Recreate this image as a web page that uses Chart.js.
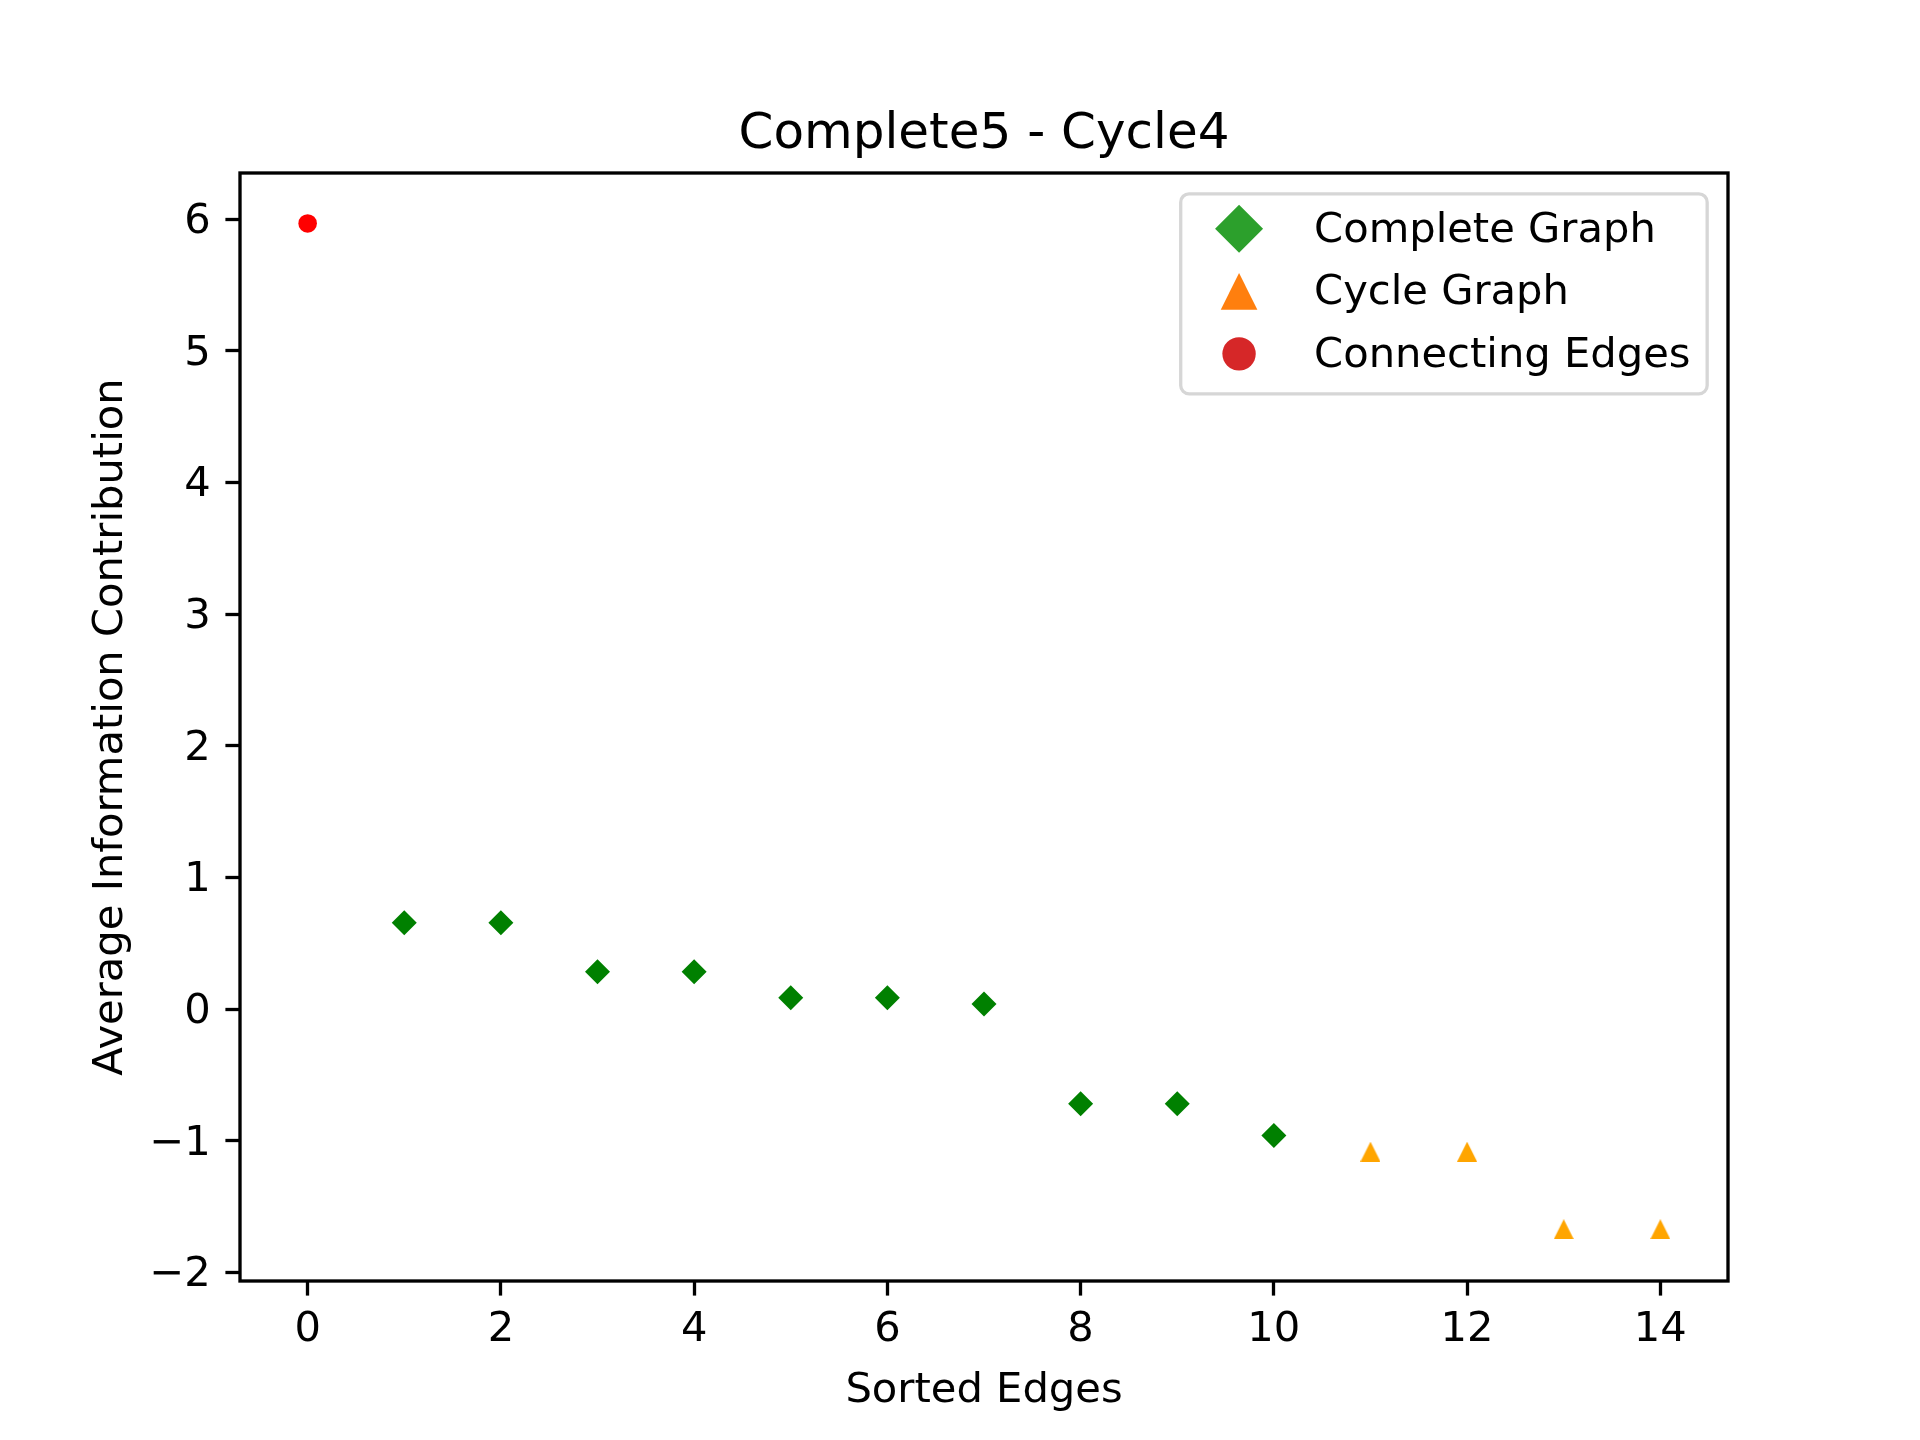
<!DOCTYPE html>
<html>
<head>
<meta charset="utf-8">
<script src="https://cdn.jsdelivr.net/npm/chart.js@4.4.1/dist/chart.umd.min.js"></script>
<style>
  html, body { margin: 0; padding: 0; background: #fff; }
  canvas { display: block; }
</style>
</head>
<body>
<canvas id="chart" width="1920" height="1440"></canvas>
<script>
const chartTitle = 'Complete5 - Cycle4';
const xAxisLabel = 'Sorted Edges';
const yAxisLabel = 'Average Information Contribution';
const seriesLabels = ['Complete Graph', 'Cycle Graph', 'Connecting Edges'];

// values
const completeX = [1, 2, 3, 4, 5, 6, 7, 8, 9, 10];
const completeY = [0.656, 0.656, 0.285, 0.285, 0.087, 0.087, 0.040, -0.718, -0.718, -0.960];
const cycleX = [11, 12, 13, 14];
const cycleY = [-1.082, -1.082, -1.671, -1.671];
const connectingX = [0];
const connectingY = [5.967];

const xTicks = [0, 2, 4, 6, 8, 10, 12, 14];
const yTicks = [-2, -1, 0, 1, 2, 3, 4, 5, 6];

const FS = 41.67; // 10pt at 300dpi
Chart.defaults.font.family = "'DejaVu Sans', sans-serif";
Chart.defaults.color = '#000';

function toPoints(xs, ys) {
  return xs.map((x, i) => ({ x: x, y: ys[i] }));
}

// matplotlib style "^" marker: as wide as it is tall
function triangleMarker(size, color) {
  const c = document.createElement('canvas');
  c.width = size;
  c.height = size;
  const ctx = c.getContext('2d');
  ctx.fillStyle = color;
  ctx.beginPath();
  ctx.moveTo(size / 2, 0);
  ctx.lineTo(size, size);
  ctx.lineTo(0, size);
  ctx.closePath();
  ctx.fill();
  return c;
}

function fmt(v) {
  return v < 0 ? '\u2212' + Math.abs(v) : String(v);
}

// axes box drawn on top like matplotlib spines
const framePlugin = {
  id: 'frame',
  afterDraw(chart) {
    const { ctx, chartArea: a } = chart;
    ctx.save();
    ctx.strokeStyle = '#000';
    ctx.lineWidth = 3.33;
    ctx.strokeRect(a.left, a.top, a.right - a.left, a.bottom - a.top);
    ctx.restore();
  }
};

// legend in the upper right, with its own handle colours as in the reference
const legendColors = ['#2ca02c', '#ff7f0e', '#d62728'];
const legendPlugin = {
  id: 'mplLegend',
  afterDraw(chart) {
    const { ctx, chartArea: a } = chart;
    const pad = 0.4 * FS, handleLen = 2 * FS, textPad = 0.8 * FS, gap = 0.5 * FS;
    ctx.save();
    ctx.font = FS + "px 'DejaVu Sans'";
    const textW = Math.max(...seriesLabels.map(t => ctx.measureText(t).width));
    const right = a.right - 0.5 * FS;
    const top = a.top + 0.5 * FS;
    const w = pad + handleLen + textPad + textW + pad;
    const h = pad * 2 + seriesLabels.length * FS + (seriesLabels.length - 1) * gap;
    const left = right - w;

    ctx.beginPath();
    ctx.roundRect(left, top, w, h, 0.2 * FS);
    ctx.fillStyle = 'rgba(255,255,255,0.8)';
    ctx.fill();
    ctx.lineWidth = 3.3;
    ctx.strokeStyle = '#d6d6d6';
    ctx.stroke();

    const mx = left + pad + handleLen / 2;
    seriesLabels.forEach((label, i) => {
      const cy = top + 35 + i * (FS + gap);
      ctx.fillStyle = legendColors[i];
      ctx.beginPath();
      if (i === 0) {
        const r = 24;
        ctx.moveTo(mx, cy - r);
        ctx.lineTo(mx + r, cy);
        ctx.lineTo(mx, cy + r);
        ctx.lineTo(mx - r, cy);
      } else if (i === 1) {
        const s = 18.3;
        ctx.moveTo(mx, cy - s);
        ctx.lineTo(mx + s, cy + s);
        ctx.lineTo(mx - s, cy + s);
      } else {
        ctx.arc(mx, cy, 16.7, 0, Math.PI * 2);
      }
      ctx.closePath();
      ctx.fill();
      ctx.fillStyle = '#000';
      ctx.textBaseline = 'middle';
      ctx.textAlign = 'left';
      ctx.fillText(label, left + pad + handleLen + textPad, cy + 2);
    });
    ctx.restore();
  }
};

const tickGrid = { drawOnChartArea: false, drawTicks: true, tickLength: 14.6, tickWidth: 3.3, tickColor: '#000' };

const ctx = document.getElementById('chart').getContext('2d');
new Chart(ctx, {
  type: 'scatter',
  data: {
    datasets: [
      {
        label: seriesLabels[0],
        data: toPoints(completeX, completeY),
        pointStyle: 'rectRot',
        pointRadius: 12.5,
        backgroundColor: '#008000',
        borderWidth: 0
      },
      {
        label: seriesLabels[1],
        data: toPoints(cycleX, cycleY),
        pointStyle: triangleMarker(20, '#ffa500'),
        pointRadius: 10,
        backgroundColor: '#ffa500',
        borderWidth: 0
      },
      {
        label: seriesLabels[2],
        data: toPoints(connectingX, connectingY),
        pointStyle: 'circle',
        pointRadius: 9.3,
        backgroundColor: '#ff0000',
        borderWidth: 0
      }
    ]
  },
  options: {
    responsive: false,
    animation: false,
    events: [],
    layout: { padding: { left: 48, top: 0, right: 0, bottom: 0 } },
    scales: {
      x: {
        type: 'linear',
        min: -0.7,
        max: 14.7,
        afterBuildTicks: scale => { scale.ticks = xTicks.map(v => ({ value: v })); },
        afterFit: scale => { scale.height = 159; },
        border: { display: false },
        grid: tickGrid,
        ticks: { font: { size: FS }, padding: 10, maxRotation: 0, autoSkip: false, callback: v => fmt(v) },
        title: { display: true, text: xAxisLabel, font: { size: FS }, padding: { top: 0, bottom: 24 } }
      },
      y: {
        type: 'linear',
        min: -2.064,
        max: 6.35,
        afterBuildTicks: scale => { scale.ticks = yTicks.map(v => ({ value: v })); },
        afterFit: scale => { scale.width = 192; },
        border: { display: false },
        grid: tickGrid,
        ticks: { font: { size: FS }, padding: 14.6, labelOffset: 3, autoSkip: false, callback: v => fmt(v) },
        title: { display: true, text: yAxisLabel, font: { size: FS }, padding: { top: 38, bottom: 0 } }
      },
      // empty right-hand axis so the title centres over the plot area
      yRight: {
        type: 'linear',
        position: 'right',
        min: -2.064,
        max: 6.35,
        afterFit: scale => { scale.width = 192; },
        border: { display: false },
        grid: { display: false },
        ticks: { display: false }
      }
    },
    plugins: {
      legend: { display: false },
      tooltip: { enabled: false },
      title: {
        display: true,
        text: chartTitle,
        font: { size: 50, weight: 'normal' },
        padding: { top: 105, bottom: 8 }
      }
    }
  },
  plugins: [framePlugin, legendPlugin]
});
</script>
</body>
</html>
